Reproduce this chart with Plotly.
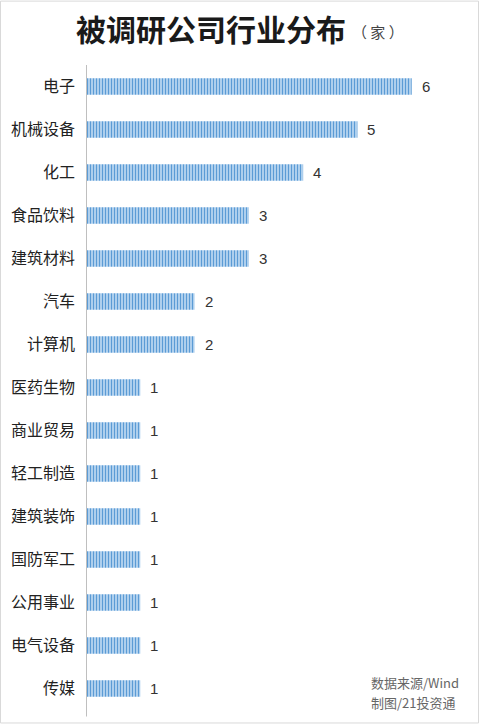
import plotly.graph_objects as go

categories = ["电子", "机械设备", "化工", "食品饮料", "建筑材料", "汽车", "计算机",
              "医药生物", "商业贸易", "轻工制造", "建筑装饰", "国防军工", "公用事业",
              "电气设备", "传媒"]
values = [6, 5, 4, 3, 3, 2, 2, 1, 1, 1, 1, 1, 1, 1, 1]

FONT = "Noto Sans CJK SC"
NUMFONT = "Liberation Sans"
W, H = 481, 727
L, R, T, B = 86, 15, 64.5, 16.5

fig = go.Figure()
fig.add_trace(go.Bar(
    x=values, y=categories, orientation="h",
    marker=dict(
        color="#A9CBEB",
        line=dict(width=0),
        pattern=dict(shape="|", fillmode="replace", bgcolor="#C9E0F5",
                     fgcolor="#5B9BD5", size=3, solidity=0.5),
    ),
    width=0.38,
    hoverinfo="skip",
))

for c, v in zip(categories, values):
    fig.add_annotation(x=v, y=c, text=str(v), showarrow=False,
                       xanchor="left", xshift=8,
                       font=dict(family=NUMFONT, size=15, color="#333333"))

fig.update_layout(
    width=W, height=H,
    margin=dict(l=L, r=R, t=T, b=B),
    paper_bgcolor="white", plot_bgcolor="white",
    showlegend=False,
    font=dict(family=FONT, color="#333333"),
    xaxis=dict(range=[0, 7], visible=False, fixedrange=True),
    yaxis=dict(autorange=False, range=[14.5, -0.5], type="category",
               categoryorder="array", categoryarray=categories,
               showgrid=False, zeroline=False,
               showline=False, ticks="", ticklabelstandoff=10,
               tickfont=dict(family=FONT, size=16, color="#222222")),
)

# axis line at x=0
fig.add_shape(type="line", xref="x", yref="paper", x0=0, x1=0, y0=-0.01, y1=1.0,
              line=dict(color="#BFBFBF", width=2))

pw = W - L - R
ph = H - T - B
def px2x(px):
    return (px - L) / pw
def py2y(py):
    return 1 - (py - T) / ph

# outer frame
fig.add_shape(type="rect", xref="paper", yref="paper",
              x0=px2x(0.5), x1=px2x(478.5), y0=py2y(723.5), y1=py2y(0.5),
              line=dict(color="#D9D9D9", width=1))

fig.add_annotation(xref="paper", yref="paper", x=px2x(74), y=py2y(27),
                   xanchor="left", yanchor="middle", showarrow=False,
                   text="<b>被调研公司行业分布</b>",
                   font=dict(family=FONT, size=30, color="#1a1a1a"))
fig.add_annotation(xref="paper", yref="paper", x=px2x(350), y=py2y(31),
                   xanchor="left", yanchor="middle", showarrow=False,
                   text="（ 家 ）",
                   font=dict(family=FONT, size=15, color="#444444"))

fig.add_annotation(xref="paper", yref="paper", x=px2x(369), y=py2y(683),
                   xanchor="left", yanchor="middle", showarrow=False,
                   text="数据来源/Wind",
                   font=dict(family=FONT, size=13, color="#666666"))
fig.add_annotation(xref="paper", yref="paper", x=px2x(369), y=py2y(703),
                   xanchor="left", yanchor="middle", showarrow=False,
                   text="制图/21投资通",
                   font=dict(family=FONT, size=13, color="#666666"))

fig.write_html("out.html")
